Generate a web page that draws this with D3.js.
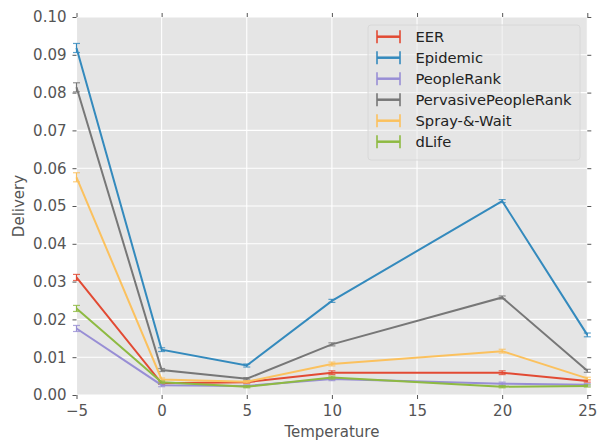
<!DOCTYPE html>
<html><head><meta charset="utf-8">
<script src="https://cdn.jsdelivr.net/npm/d3@7"></script>
<style>body{margin:0;background:#fff}svg{display:block}</style>
</head><body>
<svg id="c" width="598" height="442"></svg>
<script>
const temps = [-5, 0, 5, 10, 20, 25];
const seriesNames = ["EER", "Epidemic", "PeopleRank", "PervasivePeopleRank", "Spray-&-Wait", "dLife"];
const colors = ["#E24A33", "#348ABD", "#988ED5", "#777777", "#FBC15E", "#8EBA42"];
const eerVals = [0.0311, 0.0031, 0.0034, 0.0059, 0.0059, 0.0037];
const epidemicVals = [0.0918, 0.0120, 0.0078, 0.0249, 0.0513, 0.0159];
const peopleRankVals = [0.0176, 0.0026, 0.0024, 0.0042, 0.0030, 0.0027];
const pprVals = [0.0814, 0.0066, 0.0043, 0.0134, 0.0258, 0.0064];
const sprayVals = [0.0576, 0.0041, 0.0035, 0.0082, 0.0116, 0.0044];
const dlifeVals = [0.0229, 0.0034, 0.0022, 0.0046, 0.0022, 0.0024];
const eerErr = [0.0008, 0.0003, 0.0003, 0.0005, 0.0005, 0.0003];
const epidemicErr = [0.0012, 0.0005, 0.0004, 0.0004, 0.0004, 0.0005];
const peopleRankErr = [0.0008, 0.0004, 0.0003, 0.0004, 0.0004, 0.0003];
const pprErr = [0.0012, 0.0004, 0.0003, 0.0004, 0.0004, 0.0004];
const sprayErr = [0.0012, 0.0004, 0.0003, 0.0005, 0.0005, 0.0003];
const dlifeErr = [0.0008, 0.0003, 0.0003, 0.0004, 0.0003, 0.0003];
const xTicks = [-5, 0, 5, 10, 15, 20, 25];
const yTicks = [0, 0.01, 0.02, 0.03, 0.04, 0.05, 0.06, 0.07, 0.08, 0.09, 0.10];

const allVals = [eerVals, epidemicVals, peopleRankVals, pprVals, sprayVals, dlifeVals];
const allErr = [eerErr, epidemicErr, peopleRankErr, pprErr, sprayErr, dlifeErr];
const series = seriesNames.map((n, i) => ({name: n, color: colors[i],
  pts: temps.map((t, j) => ({x: t, y: allVals[i][j], e: allErr[i][j]}))}));

const L = 76.5, R = 587.3, T = 17, B = 395;
const x = d3.scaleLinear().domain([-5, 25]).range([L, R]);
const y = d3.scaleLinear().domain([0, 0.10]).range([B, T]);
const svg = d3.select("#c");
const font = "DejaVu Sans, sans-serif";

svg.append("rect").attr("x", L).attr("y", T).attr("width", R - L).attr("height", B - T).attr("fill", "#E5E5E5");

// grid
const grid = svg.append("g");
grid.selectAll(".gx").data(xTicks).join("line").attr("x1", d => x(d)).attr("x2", d => x(d))
  .attr("y1", T).attr("y2", B).attr("stroke", "#fff").attr("stroke-width", 1.1);
grid.selectAll(".gy").data(yTicks).join("line").attr("y1", d => y(d)).attr("y2", d => y(d))
  .attr("x1", L).attr("x2", R).attr("stroke", "#fff").attr("stroke-width", 1.1);

// axes
const fmtY = d3.format(".2f");
const axL = svg.append("g").attr("transform", `translate(${L},0)`)
  .call(d3.axisLeft(y).tickValues(yTicks).tickFormat(fmtY).tickSize(4).tickPadding(6));
const axR = svg.append("g").attr("transform", `translate(${R},0)`)
  .call(d3.axisRight(y).tickValues(yTicks).tickFormat("").tickSize(4));
const axB = svg.append("g").attr("transform", `translate(0,${B})`)
  .call(d3.axisBottom(x).tickValues(xTicks).tickFormat(d => d < 0 ? "\u2212" + Math.abs(d) : d).tickSize(4).tickPadding(6));
const axT = svg.append("g").attr("transform", `translate(0,${T})`)
  .call(d3.axisTop(x).tickValues(xTicks).tickFormat("").tickSize(4));
[axL, axR, axB, axT].forEach(a => {
  a.select(".domain").remove();
  a.selectAll(".tick line").attr("stroke", "#555").attr("stroke-width", 1);
  a.selectAll(".tick text").attr("fill", "#555").attr("font-family", font).attr("font-size", 15);
});

// lines
const line = d3.line().x(d => x(d.x)).y(d => y(d.y));
const plot = svg.append("g");
series.forEach(s => {
  const g = plot.append("g");
  g.append("path").datum(s.pts).attr("d", line).attr("fill", "none")
    .attr("stroke", s.color).attr("stroke-width", 2);
  g.selectAll(".eb").data(s.pts).join("line").attr("x1", d => x(d.x)).attr("x2", d => x(d.x))
    .attr("y1", d => y(d.y - d.e)).attr("y2", d => y(d.y + d.e)).attr("stroke", s.color).attr("stroke-width", 1.2);
  ["lo", "hi"].forEach(k => {
    g.selectAll(".cap" + k).data(s.pts).join("line")
      .attr("x1", d => x(d.x) - 3.5).attr("x2", d => x(d.x) + 3.5)
      .attr("y1", d => y(k === "lo" ? d.y - d.e : d.y + d.e)).attr("y2", d => y(k === "lo" ? d.y - d.e : d.y + d.e))
      .attr("stroke", s.color).attr("stroke-width", 1.2).attr("stroke-opacity", 0.8);
  });
});

// legend
const lg = svg.append("g");
lg.append("rect").attr("x", 368).attr("y", 25).attr("width", 212).attr("height", 135).attr("rx", 3)
  .attr("fill", "#E5E5E5").attr("fill-opacity", 0.5).attr("stroke", "#d8d8d8").attr("stroke-width", 1);
series.forEach((s, i) => {
  const cy = 36.7 + i * 21;
  const g = lg.append("g");
  g.append("line").attr("x1", 377).attr("x2", 400).attr("y1", cy).attr("y2", cy).attr("stroke", s.color).attr("stroke-width", 2.5);
  [377, 400].forEach(cx => g.append("line").attr("x1", cx).attr("x2", cx).attr("y1", cy - 6.5).attr("y2", cy + 6.5)
    .attr("stroke", s.color).attr("stroke-width", 2).attr("stroke-opacity", 0.8));
  g.append("text").attr("x", 415.5).attr("y", cy + 5.3).text(s.name).attr("font-family", font)
    .attr("font-size", 14.7).attr("fill", "#222");
});

// axis labels
svg.append("text").attr("x", (L + R) / 2).attr("y", 437).attr("text-anchor", "middle")
  .attr("font-family", font).attr("font-size", 15).attr("fill", "#555").text("Temperature");
svg.append("text").attr("transform", `translate(23.5,${(T + B) / 2}) rotate(-90)`).attr("text-anchor", "middle")
  .attr("font-family", font).attr("font-size", 15).attr("fill", "#555").text("Delivery");
</script>
</body></html>
